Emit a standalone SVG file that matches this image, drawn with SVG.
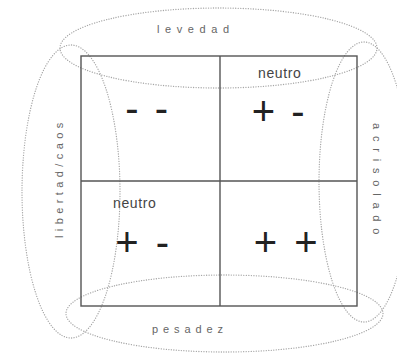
<svg xmlns="http://www.w3.org/2000/svg" width="397" height="355" viewBox="0 0 397 355">
<style>
.dot{fill:none;stroke:#a6a6a6;stroke-width:1.3;stroke-dasharray:0.1 2.4;stroke-linecap:round}
.box{fill:none;stroke:#555;stroke-width:1.4}
.lab{font-family:"Liberation Sans",Arial,sans-serif;font-size:11px;fill:#666}
.neu{font-family:"Liberation Sans",Arial,sans-serif;font-size:14px;fill:#444;letter-spacing:0.6px}
.sym{font-family:"Liberation Sans",Arial,sans-serif;font-size:40px;fill:#222;text-anchor:middle}
</style>
<rect width="397" height="355" fill="#fff"/>
<g id="connectors">
<ellipse class="dot" cx="218.5" cy="48" rx="158.5" ry="40"/>
<ellipse class="dot" cx="224.5" cy="313.5" rx="158.5" ry="38.5"/>
<ellipse class="dot" cx="71" cy="191.5" rx="49" ry="146.5"/>
<ellipse class="dot" cx="364" cy="182" rx="45" ry="140"/>
</g>
<g id="grid">
<rect class="box" x="81" y="56" width="276" height="250"/>
<line class="box" x1="220" y1="56" x2="220" y2="306"/>
<line class="box" x1="81" y1="181" x2="357" y2="181"/>
</g>
<g id="levedad"><text class="lab" x="157" y="33" letter-spacing="5.6">levedad</text></g>
<g id="pesadez"><text class="lab" x="152" y="333" letter-spacing="4.9">pesadez</text></g>
<g id="libertad"><text class="lab" transform="translate(63,238) rotate(-90)" letter-spacing="4.4">libertad/caos</text></g>
<g id="acrisolado"><text class="lab" transform="translate(373,123) rotate(90)" letter-spacing="6.8">acrisolado</text></g>
<g id="q1"><text class="sym"><tspan x="137.5" y="122">-</tspan> <tspan x="161.5" y="122">-</tspan></text></g>
<g id="q2">
<text class="neu" x="258" y="78">neutro</text>
<text class="sym"><tspan x="269" y="125">+</tspan> <tspan x="298" y="124.5">-</tspan></text>
</g>
<g id="q3">
<text class="neu" x="113" y="208">neutro</text>
<text class="sym"><tspan x="132.5" y="256">+</tspan> <tspan x="162.5" y="255.5">-</tspan></text>
</g>
<g id="q4">
<text class="sym"><tspan x="271" y="256">+</tspan> <tspan x="306" y="256">+</tspan></text>
</g>
</svg>
